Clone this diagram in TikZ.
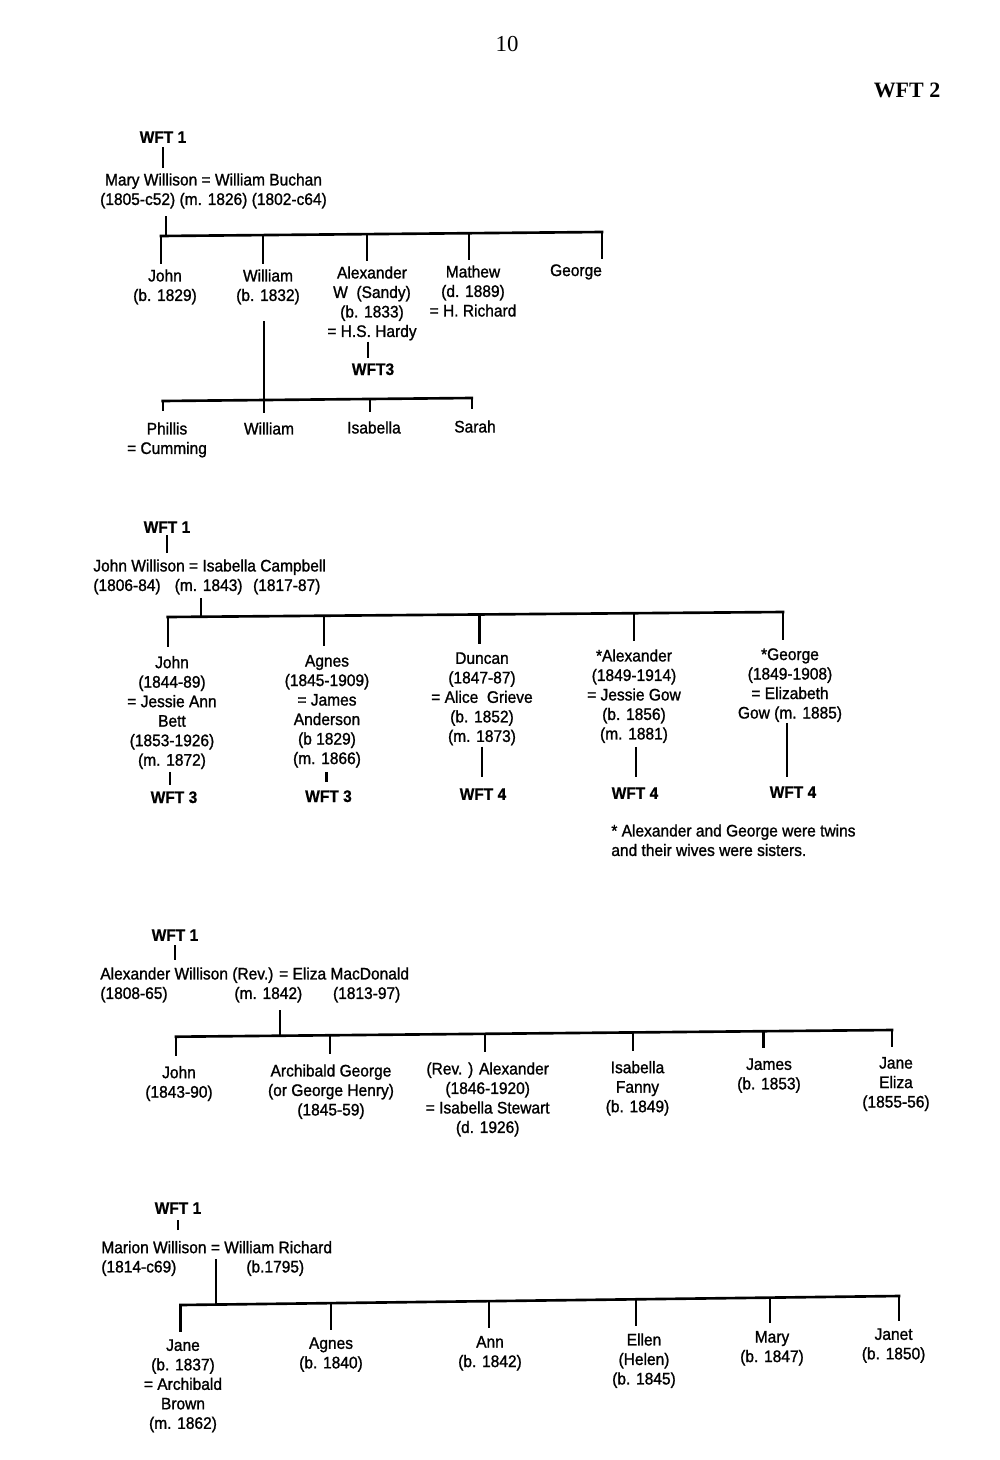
\documentclass[tikz,border=0pt]{standalone}
\usepackage{fontspec}
\setmainfont{Liberation Sans}[FakeStretch=0.93,UprightFeatures={FakeBold=1.2},BoldFeatures={FakeBold=0.6}]
\newfontfamily\headfont{Liberation Serif}
\usepackage{tikz}
\usetikzlibrary{calc}
\newcommand{\treefont}{\fontsize{9.5}{11.1}\selectfont}
\tikzset{
  person/.style={align=center,anchor=north,inner sep=0pt,font=\treefont},
  couple/.style={align=left,anchor=north west,inner sep=0pt,font=\treefont},
  wft/.style={anchor=north,inner sep=0pt,font=\treefont\bfseries},
  link/.style={line width=1.3pt,shorten >=#1},
  link/.default=3pt,
  bar/.style={line width=1.5pt,line cap=rect}
}

\begin{document}
\begin{tikzpicture}[x=0.02cm,y=-0.02cm]
\fill[white] (0,0) rectangle (1000,1460);
\useasboundingbox (0,0) rectangle (1000,1460);
\node[font=\headfont\fontsize{13}{15}\selectfont] (pageno) at (507,44) {10};
\node[font=\headfont\bfseries\fontsize{12.5}{15}\selectfont] (sheet) at (907,90) {WFT 2};

% Mary Willison
\node[wft] (s1wft) at (163,131) {WFT 1};
\node[person] (s1cpl) at (213.5,173) {Mary Willison = William Buchan\\(1805-c52) (m. 1826) (1802-c64)};
\draw[link=2.3pt,shorten <=2.8pt] (s1cpl.north -| s1wft) -- (s1wft);
\draw[link=4pt] (166,236) -- (166,236 |- s1cpl.south);
\draw[bar] (161,236) -- (602,232);
\node[person] (s1john) at (165,269) {John\\(b. 1829)};
\node[person] (s1will) at (268,269) {William\\(b. 1832)};
\node[person] (s1alex) at (372,266) {Alexander\\W\ \ (Sandy)\\(b. 1833)\\= H.S. Hardy};
\node[person] (s1math) at (473,265) {Mathew\\(d. 1889)\\= H. Richard};
\node[person] (s1geo) at (576,264) {George};
\draw[link] (161,236) -- (161,236 |- s1john.north);
\draw[link] (263,235.1) -- (263,235.1 |- s1will.north);
\draw[link] (367,234.1) -- (367,234.1 |- s1alex.north);
\draw[link] (469,233.2) -- (469,233.2 |- s1math.north);
\draw[link] (602,232) -- (602,232 |- s1geo.north);
\node[wft] (s1wft3) at (373,363) {WFT3};
\draw[link=2.8pt,shorten <=0.5pt] (368,0 |- s1alex.south) -- (368,0 |- s1wft3.north);
\draw[link=9pt] (264,400) -- (264,400 |- s1will.south);
\draw[bar] (162.7,401) -- (471.7,398);
\node[person] (s2phil) at (167,422) {Phillis\\= Cumming};
\node[person] (s2will) at (269,422) {William};
\node[person] (s2isa) at (374,421) {Isabella};
\node[person] (s2sar) at (475,420) {Sarah};
\draw[link=6pt] (162.7,401) -- (162.7,401 |- s2phil.north);
\draw[link=5pt] (264,400) -- (264,400 |- s2will.north);
\draw[link=5pt] (370,399) -- (370,399 |- s2isa.north);
\draw[link=6pt] (471.7,398) -- (471.7,398 |- s2sar.north);

% John Willison
\node[wft] (s3wft) at (167,521) {WFT 1};
\node[couple] (s3cpl) at (93,559) {John Willison = Isabella Campbell\\(1806-84)\hspace{8pt}(m. 1843)\hspace{6pt}(1817-87)};
\draw[link=1.1pt,shorten <=3.4pt] (s3cpl.north -| s3wft) -- (s3wft);
\draw[link=2pt] (201,616.7) -- (201,616.7 |- s3cpl.south);
\draw[bar] (167.8,617) -- (783,612);
\node[person] (s3john) at (172,655.7) {John\\(1844-89)\\= Jessie Ann\\Bett\\(1853-1926)\\(m. 1872)};
\node[person] (s3agn) at (327,654.7) {Agnes\\(1845-1909)\\= James\\Anderson\\(b 1829)\\(m. 1866)};
\node[person] (s3dun) at (482,652) {Duncan\\(1847-87)\\= Alice\ \ Grieve\\(b. 1852)\\(m. 1873)};
\node[person] (s3alex) at (634,649) {*Alexander\\(1849-1914)\\= Jessie Gow\\(b. 1856)\\(m. 1881)};
\node[person] (s3geo) at (790,648) {*George\\(1849-1908)\\= Elizabeth\\Gow (m. 1885)};
\draw[link=4.7pt] (167.8,617) -- (167.8,617 |- s3john.north);
\draw[link=4.7pt] (324,615.7) -- (324,615.7 |- s3agn.north);
\draw[link=4.7pt] (479.5,614.5) -- (479.5,614.5 |- s3dun.north);
\draw[link=4.7pt] (634,613.2) -- (634,613.2 |- s3alex.north);
\draw[link=4.7pt] (783,612) -- (783,612 |- s3geo.north);
\node[wft] (s3wftj) at (174,791) {WFT 3};
\node[wft] (s3wfta) at (328.5,790) {WFT 3};
\node[wft] (s3wftd) at (483,788) {WFT 4};
\node[wft] (s3wftx) at (635,787) {WFT 4};
\node[wft] (s3wftg) at (793,786) {WFT 4};
\draw[link=3.4pt,shorten <=1.4pt] (170,0 |- s3john.south) -- (170,0 |- s3wftj.north);
\draw[link=4.5pt,shorten <=2.5pt] (326.4,0 |- s3agn.south) -- (326.4,0 |- s3wfta.north);
\draw[link=6pt,shorten <=0.5pt] (482,0 |- s3dun.south) -- (482,0 |- s3wftd.north);
\draw[link=5.5pt,shorten <=2pt] (636,0 |- s3alex.south) -- (636,0 |- s3wftx.north);
\draw[link=5pt,shorten <=0.3pt] (787,0 |- s3geo.south) -- (787,0 |- s3wftg.north);
\node[couple] (s3note) at (611,824) {* Alexander and George were twins\\and their wives were sisters.};

% Alexander Willison
\node[wft] (s4wft) at (175,929) {WFT 1};
\node[couple] (s4cpl) at (100,967) {Alexander Willison (Rev.) = Eliza MacDonald\\(1808-65)\hspace{38pt}(m. 1842)\hspace{17.5pt}(1813-97)};
\draw[link=2.3pt,shorten <=4pt] (s4cpl.north -| s4wft) -- (s4wft);
\draw[link=4pt] (280,1035.7) -- (280,1035.7 |- s4cpl.south);
\draw[bar] (176,1036.7) -- (892,1030);
\node[person] (s4john) at (179,1065.7) {John\\(1843-90)};
\node[person] (s4arch) at (331,1064) {Archibald George\\(or George Henry)\\(1845-59)};
\node[person] (s4alex) at (487.7,1062) {(Rev. ) Alexander\\(1846-1920)\\= Isabella Stewart\\(d. 1926)};
\node[person] (s4isa) at (637.5,1060.7) {Isabella\\Fanny\\(b. 1849)};
\node[person] (s4jam) at (769,1058) {James\\(b. 1853)};
\node[person] (s4jane) at (896,1056.7) {Jane\\Eliza\\(1855-56)};
\draw[link=5.5pt] (176,1036.7) -- (176,1036.7 |- s4john.north);
\draw[link=5.5pt] (330,1035.3) -- (330,1035.3 |- s4arch.north);
\draw[link=5.5pt] (485,1033.8) -- (485,1033.8 |- s4alex.north);
\draw[link=5.5pt] (633,1032.4) -- (633,1032.4 |- s4isa.north);
\draw[link=5.5pt] (763.6,1031.2) -- (763.6,1031.2 |- s4jam.north);
\draw[link=5.5pt] (892,1030) -- (892,1030 |- s4jane.north);

% Marion Willison
\node[wft] (s5wft) at (178,1202) {WFT 1};
\node[couple] (s5cpl) at (101,1240.7) {Marion Willison = William Richard};
\node[couple] (s5wdate) at (101,1260) {(1814-c69)};
\node[couple] (s5hdate) at (246,1260) {(b.1795)};
\draw[link=3.4pt,shorten <=6pt] (s5cpl.north -| s5wft) -- (s5wft);
\draw[link=3pt] (216,1304.5) -- (216,1304.5 |- s5cpl.south);
\draw[bar] (180.5,1305) -- (899,1296);
\node[person] (s5jane) at (183,1339) {Jane\\(b. 1837)\\= Archibald\\Brown\\(m. 1862)};
\node[person] (s5agn) at (331,1337) {Agnes\\(b. 1840)};
\node[person] (s5ann) at (490,1335.7) {Ann\\(b. 1842)};
\node[person] (s5ell) at (644,1333) {Ellen\\(Helen)\\(b. 1845)};
\node[person] (s5mary) at (772,1330.7) {Mary\\(b. 1847)};
\node[person] (s5jan) at (893.6,1328) {Janet\\(b. 1850)};
\draw[link=4.2pt] (180.5,1305) -- (180.5,1305 |- s5jane.north);
\draw[link=4.2pt] (331,1303.1) -- (331,1303.1 |- s5agn.north);
\draw[link=4.2pt] (489,1301.1) -- (489,1301.1 |- s5ann.north);
\draw[link=4.2pt] (636,1299.3) -- (636,1299.3 |- s5ell.north);
\draw[link=4.2pt] (770,1297.6) -- (770,1297.6 |- s5mary.north);
\draw[link=4.2pt] (899,1296) -- (899,1296 |- s5jan.north);
\end{tikzpicture}
\end{document}
